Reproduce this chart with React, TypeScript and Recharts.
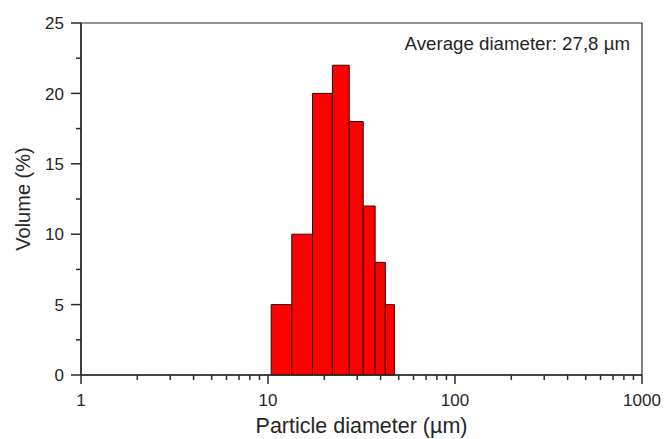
import React from 'react';
import { ComposedChart, XAxis, YAxis, ReferenceArea } from 'recharts';

const binEdges = [10.4, 13.4, 17.3, 22.1, 27.2, 32.3, 37.4, 42.4, 47.4];
const volumes = [5, 10, 20, 22, 18, 12, 8, 5];

const xMajorTicks = [1, 10, 100, 1000];
const xAllTicks = [
  1, 2, 3, 4, 5, 6, 7, 8, 9,
  10, 20, 30, 40, 50, 60, 70, 80, 90,
  100, 200, 300, 400, 500, 600, 700, 800, 900,
  1000,
];
const yAllTicks = [0, 2.5, 5, 7.5, 10, 12.5, 15, 17.5, 20, 22.5, 25];
const yMajorTicks = [0, 5, 10, 15, 20, 25];

const xTitle = 'Particle diameter (µm)';
const yTitle = 'Volume (%)';
const annotation = 'Average diameter: 27,8 µm';

const FONT = '"Liberation Sans", Arial, Helvetica, sans-serif';
const TEXT = '#262626';
const AXIS = '#2a2a2a';
const LW = 1.5;

const bins = volumes.map((v, i) => ({ x1: binEdges[i], x2: binEdges[i + 1], v }));

const XTick = (props: any) => {
  const { x, y, payload } = props;
  const major = xMajorTicks.includes(payload.value);
  return (
    <g>
      <line x1={x} y1={y} x2={x} y2={y + (major ? 9 : 5)} stroke={AXIS} strokeWidth={LW} />
      {major && (
        <text x={x} y={y + 31} textAnchor="middle" fontSize={17} fill={TEXT} fontFamily={FONT}>
          {payload.value}
        </text>
      )}
    </g>
  );
};

const YTick = (props: any) => {
  const { x, y, payload } = props;
  const major = yMajorTicks.includes(payload.value);
  return (
    <g>
      <line x1={x} y1={y} x2={x - (major ? 10 : 5)} y2={y} stroke={AXIS} strokeWidth={LW} />
      {major && (
        <text x={x - 17} y={y} dy="0.36em" textAnchor="end" fontSize={17} fill={TEXT} fontFamily={FONT}>
          {payload.value}
        </text>
      )}
    </g>
  );
};

const YTitle = (props: any) => {
  const vb = props.viewBox || {};
  const cy = vb.y + vb.height / 2;
  return (
    <text
      x={30}
      y={cy}
      transform={`rotate(-90, 30, ${cy})`}
      textAnchor="middle"
      fontSize={20}
      fill={TEXT}
      fontFamily={FONT}
    >
      {yTitle}
    </text>
  );
};

const XTitle = (props: any) => {
  const vb = props.viewBox || {};
  const cx = vb.x + vb.width / 2;
  return (
    <text x={cx} y={433} textAnchor="middle" fontSize={21.5} fill={TEXT} fontFamily={FONT}>
      {xTitle}
    </text>
  );
};

export default function App() {
  return (
    <div style={{ position: 'absolute', left: 0, top: 0, width: 664, height: 439, background: '#fff' }}>
      <ComposedChart
        width={664}
        height={439}
        data={bins}
        margin={{ top: 23, right: 22, bottom: 0, left: 0 }}
      >
        <XAxis
          type="number"
          dataKey="x1"
          scale="log"
          domain={[1, 1000]}
          ticks={xAllTicks}
          interval={0}
          tick={<XTick />}
          tickLine={false}
          tickSize={0}
          tickMargin={0}
          height={64}
          axisLine={{ stroke: AXIS, strokeWidth: LW }}
          allowDataOverflow
          label={<XTitle />}
        />
        <YAxis
          type="number"
          domain={[0, 25]}
          ticks={yAllTicks}
          interval={0}
          tick={<YTick />}
          tickLine={false}
          tickSize={0}
          tickMargin={0}
          width={81}
          axisLine={{ stroke: AXIS, strokeWidth: LW }}
          allowDataOverflow
          label={<YTitle />}
        />
        {bins.map((b, i) => (
          <ReferenceArea
            key={i}
            x1={b.x1}
            x2={b.x2}
            y1={0}
            y2={b.v}
            fill="#ff0000"
            fillOpacity={1}
            stroke="#3a0000"
            strokeWidth={1}
            ifOverflow="visible"
          />
        ))}
        <ReferenceArea
          x1={1}
          x2={1000}
          y1={0}
          y2={25}
          fill="none"
          fillOpacity={0}
          stroke={AXIS}
          strokeWidth={1.2}
          ifOverflow="visible"
        />
        <text x={630} y={50} textAnchor="end" fontSize={18.7} fill={TEXT} fontFamily={FONT}>
          {annotation}
        </text>
      </ComposedChart>
    </div>
  );
}
